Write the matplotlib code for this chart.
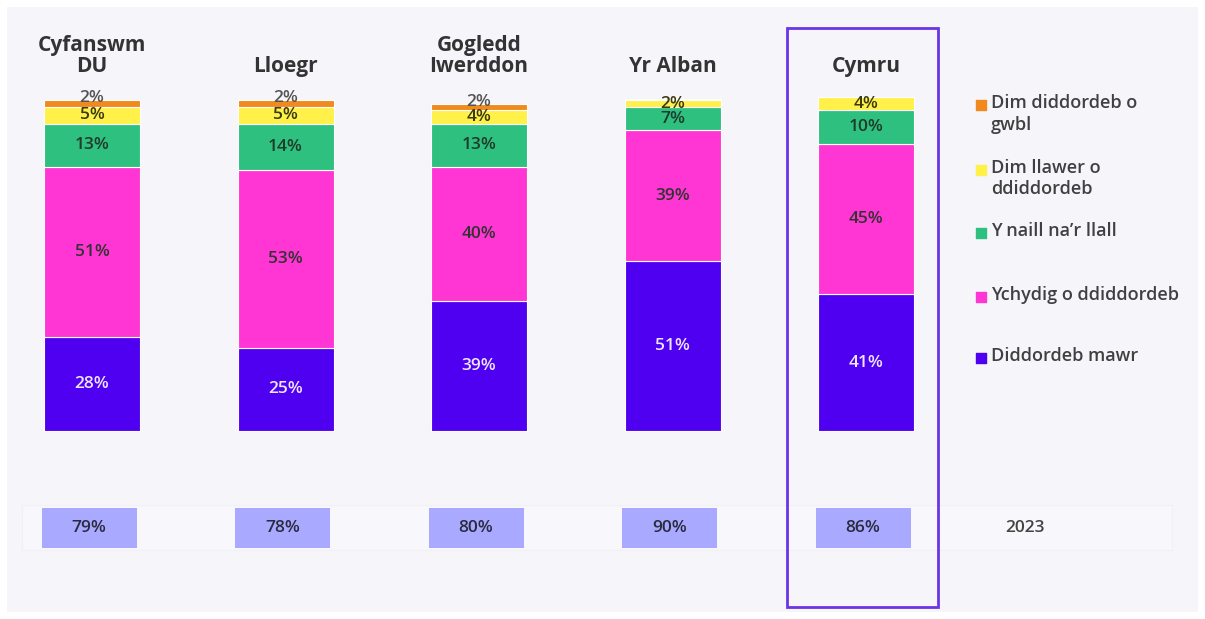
import numpy as np
import matplotlib.pyplot as plt
from matplotlib.patches import Rectangle

plt.rcParams['font.family'] = ['Open Sans', 'DejaVu Sans']

regions = ["Cyfanswm\nDU", "Lloegr", "Gogledd\nIwerddon", "Yr Alban", "Cymru"]
diddordeb_mawr = [28, 25, 39, 51, 41]
ychydig = [51, 53, 40, 39, 45]
naill_na_llall = [13, 14, 13, 7, 10]
dim_llawer = [5, 5, 4, 2, 4]
dim_o_gwbl = [2, 2, 2, 0.5, 0]
cyfanswm_2023 = [79, 78, 80, 90, 86]
year_label = "2023"

series = [diddordeb_mawr, ychydig, naill_na_llall, dim_llawer, dim_o_gwbl]
series_names = ["Diddordeb mawr", "Ychydig o ddiddordeb", "Y naill na\u2019r llall",
                "Dim llawer o\nddiddordeb", "Dim diddordeb o\ngwbl"]
colors = ["#5000f0", "#ff36d4", "#2ec07f", "#fff04a", "#f08a1c"]
label_colors = ["#ece6ff", "#333333", "#1f3b2c", "#3a3a10", "#555555"]

# pixel -> data helpers (figure is 1205x619, axes fill the figure)
PX_PER_PCT = 3.34
X0, DX = 92, 193.5
def py(p):
    return (431 - p) / PX_PER_PCT
def px(p):
    return (p - X0) / DX

fig = plt.figure(figsize=(12.05, 6.19), dpi=100)
fig.patch.set_facecolor("white")
ax = fig.add_axes([0, 0, 1, 1])
ax.set_xlim(px(0), px(1205))
ax.set_ylim(py(619), py(0))
ax.axis("off")

# panel background
ax.add_patch(Rectangle((px(7), py(612)), px(1198) - px(7), py(7) - py(612),
                       facecolor="#f5f5fa", edgecolor="none", zorder=0))
# faint strip behind the 2023 row
ax.add_patch(Rectangle((px(22), py(550)), px(1172) - px(22), py(505) - py(550),
                       facecolor="#f8f8fc", edgecolor="#f0f0f5", lw=0.8, zorder=0.5))

x = np.arange(len(regions))
width = 96 / DX
bottom = np.zeros(len(regions))
for vals, col, lc in zip(series, colors, label_colors):
    vals = np.array(vals, dtype=float)
    ax.bar(x, vals, width, bottom=bottom, color=col, edgecolor="white", lw=0.8, zorder=2)
    for xi, v, b in zip(x, vals, bottom):
        if v < 1:
            continue
        if col == colors[-1]:
            yl = b + v + 0.6
        else:
            yl = b + v / 2
        ax.text(xi, yl, f"{v:.0f}%", ha="center", va="center", fontsize=12.5,
                fontweight="semibold", color=lc, zorder=3)
    bottom += vals

# region titles
for xi, name in zip(x, regions):
    ax.text(xi, py(77), name, ha="center", va="bottom", fontsize=15,
            fontweight="bold", color="#333333", linespacing=1.0)

# 2023 boxes
box_w = 95 / DX
ax.bar(x - 0.015, [py(508) - py(548)] * len(x), box_w, bottom=py(548),
       color="#a9a9ff", edgecolor="none", zorder=2)
for xi, v in zip(x, cyfanswm_2023):
    ax.text(xi - 0.015, py(528), f"{v}%", ha="center", va="center", fontsize=12.5,
            fontweight="semibold", color="#2a2a40", zorder=3)
ax.text(px(1025), py(528), year_label, ha="center", va="center", fontsize=12.5,
        fontweight="semibold", color="#444444")

# highlight around Cymru
ax.add_patch(Rectangle((px(787), py(607)), px(938) - px(787), py(28) - py(607),
                       facecolor="none", edgecolor="#6a35e6", lw=2, zorder=4))

# legend
leg_y = [105, 170, 233, 297, 358]
for yy, name, col in zip(leg_y, series_names[::-1], colors[::-1]):
    ax.scatter([px(981)], [py(yy)], marker="s", s=42, color=col, zorder=3)
    ax.text(px(991), py(yy - 11), name, ha="left", va="top", fontsize=13,
            fontweight="semibold", color="#404040", linespacing=1.25)

fig.savefig("out.png", dpi=100, facecolor=fig.get_facecolor())
